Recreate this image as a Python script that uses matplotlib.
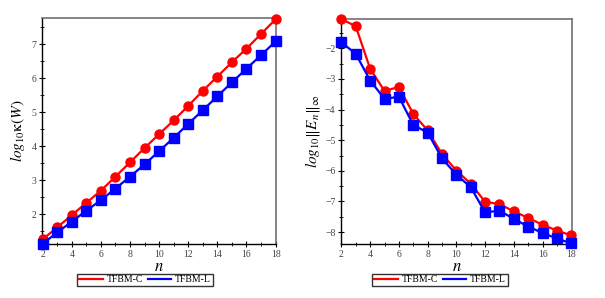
import matplotlib
matplotlib.use("Agg")
import matplotlib.pyplot as plt
from matplotlib.ticker import MultipleLocator

n = list(range(2, 19))
cond_C = [1.27, 1.62, 1.98, 2.34, 2.70, 3.11, 3.53, 3.95, 4.36, 4.76, 5.19, 5.63, 6.05, 6.47, 6.87, 7.30, 7.73]
cond_L = [1.14, 1.47, 1.79, 2.11, 2.42, 2.76, 3.11, 3.47, 3.86, 4.25, 4.66, 5.06, 5.47, 5.88, 6.28, 6.68, 7.08]
err_C = [-1.04, -1.28, -2.67, -3.39, -3.26, -4.14, -4.68, -5.45, -5.99, -6.42, -7.01, -7.09, -7.32, -7.54, -7.76, -7.95, -8.11]
err_L = [-1.80, -2.18, -3.05, -3.65, -3.58, -4.50, -4.75, -5.59, -6.13, -6.53, -7.36, -7.30, -7.57, -7.82, -8.03, -8.21, -8.37]
labels = ["TFBM-C", "TFBM-L"]

plt.rcParams['font.family'] = ['Liberation Serif', 'DejaVu Serif']
plt.rcParams['mathtext.fontset'] = 'stix'

fig = plt.figure(figsize=(6.05, 2.98), dpi=100)
W, H = 605, 298

def mkax(x0, x1, y0, y1):
    return fig.add_axes([x0 / W, 1 - y1 / H, (x1 - x0) / W, (y1 - y0) / H])

ax1 = mkax(42, 276, 18, 244)
ax2 = mkax(341, 572, 19, 244)

red = '#ff0000'
blue = '#0000ff'

def style(ax):
    for s in ['top', 'right']:
        ax.spines[s].set_color('#707070')
        ax.spines[s].set_linewidth(1.2)
    for s in ['left', 'bottom']:
        ax.spines[s].set_color('black')
        ax.spines[s].set_linewidth(1.0)
    ax.tick_params(which='major', direction='inout', length=5, width=0.8, labelsize=7, colors='black',
                   labelcolor='#444444', pad=1.5)
    ax.tick_params(which='minor', direction='inout', length=3, width=0.6)
    ax.tick_params(top=False, right=False)
    ax.xaxis.set_major_locator(MultipleLocator(2))
    ax.xaxis.set_minor_locator(MultipleLocator(1))
    ax.yaxis.set_major_locator(MultipleLocator(1))
    ax.yaxis.set_minor_locator(MultipleLocator(0.5))
    ax.set_xlabel(r'$n$', fontsize=12, labelpad=0)

kw = dict(lw=1.6, ms=6.5, clip_on=False, zorder=3)
# left
ax1.plot(n, cond_C, color=red, marker='o', label=labels[0], **kw)
ax1.plot(n, cond_L, color=blue, marker='s', label=labels[1], **kw)
ax1.set_xlim(1.95, 18.03)
ax1.set_ylim(1.13, 7.77)
style(ax1)
ax1.set_ylabel(r'$log_{10}\mathrm{\kappa}(W)$', fontsize=11, labelpad=3)

# right
ax2.plot(n, err_C, color=red, marker='o', label=labels[0], **kw)
ax2.plot(n, err_L, color=blue, marker='s', label=labels[1], **kw)
ax2.set_xlim(1.97, 18.05)
ax2.set_ylim(-8.39, -1.04)
style(ax2)
ax2.set_yticks([-2, -3, -4, -5, -6, -7, -8])
ax2.set_ylabel(r'$log_{10}\Vert E_n \Vert_\infty$', fontsize=11, labelpad=2)

for ax, cx in [(ax1, 145), (ax2, 440)]:
    leg = ax.legend(handles=ax.get_lines(), labels=labels, loc='center',
                    bbox_to_anchor=(cx / W, 1 - 280 / H), bbox_transform=fig.transFigure,
                    ncol=2, fontsize=7, frameon=True, fancybox=False, handlelength=2.4,
                    handletextpad=0.4, columnspacing=0.5, borderpad=0.2, borderaxespad=0)
    leg.get_frame().set_edgecolor('black')
    leg.get_frame().set_linewidth(1.0)
    for h in leg.legend_handles:
        h.set_marker('')

fig.savefig('out.png', dpi=100)
